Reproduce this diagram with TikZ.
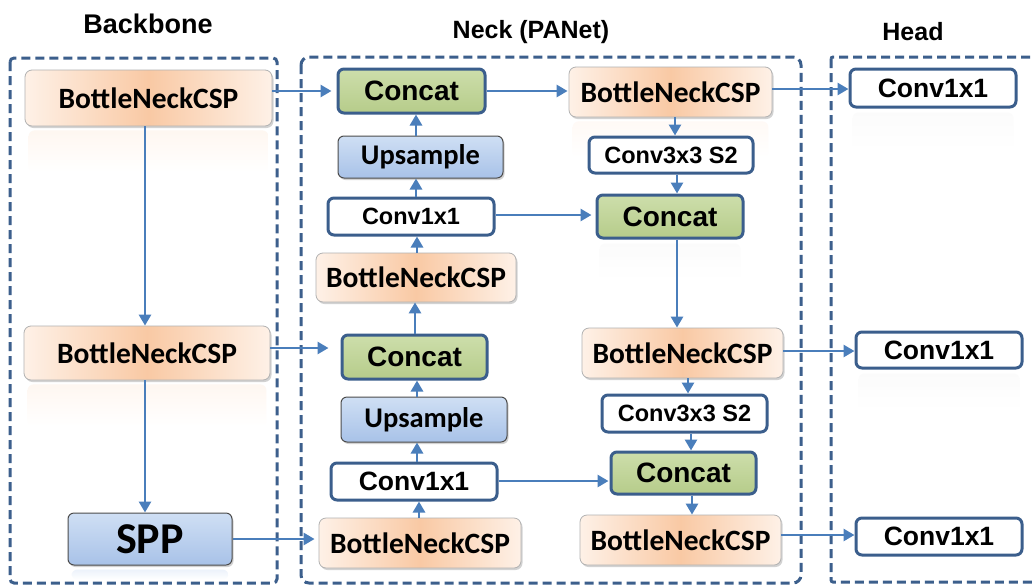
\documentclass[tikz,border=0pt]{standalone}
\usepackage{fontspec}
\setmainfont{Liberation Sans}
\newfontfamily\calib{Carlito}
\usetikzlibrary{arrows.meta,shadows,calc,backgrounds}
\definecolor{dashblue}{HTML}{3C5F8C}
\definecolor{arrblue}{HTML}{4A7EBB}
\definecolor{peachE}{HTML}{FEF1E7}
\definecolor{peachM}{HTML}{F9C9A4}
\definecolor{upT}{HTML}{CFDFF4}
\definecolor{upB}{HTML}{A8C2E8}
\definecolor{catT}{HTML}{CDDEAB}
\definecolor{catB}{HTML}{B6CC8A}
\definecolor{boxblue}{HTML}{3B5E8C}
\tikzset{
  x=1pt,y=-1pt,
  region/.style={draw=dashblue,line width=3pt,dash pattern=on 9pt off 5pt},
  shad/.style={drop shadow={opacity=0.35,shadow xshift=1.5pt,shadow yshift=-2pt}},
  bneck/.style={rounded corners=7pt,draw=black!30,line width=0.8pt,left color=peachE,right color=peachE,middle color=peachM,shad,inner sep=0pt,
     font=\calib\bfseries\fontsize{29.5}{30}\selectfont},
  upbox/.style={rounded corners=6pt,draw=black!70,line width=1pt,top color=upT,bottom color=upB,shad,inner sep=0pt,
     font=\calib\bfseries\fontsize{28.5}{30}\selectfont},
  catbox/.style={rounded corners=6pt,draw=boxblue,line width=3pt,top color=catT,bottom color=catB,inner sep=0pt,
     font=\bfseries\fontsize{28}{30}\selectfont},
  convbox/.style={rounded corners=6pt,draw=boxblue,line width=3pt,fill=white,inner sep=0pt,
     font=\bfseries\fontsize{26.5}{28}\selectfont},
  convsmall/.style={convbox,font=\bfseries\fontsize{23.5}{25}\selectfont},
  ttl/.style={font=\bfseries\fontsize{25}{27}\selectfont},
  arr/.style={draw=arrblue,line width=2.7pt,-{Triangle[length=11pt,width=12pt]}},
  refl/.style={rounded corners=6pt,top color=#1,bottom color=white,draw=none},
}
\newcommand\mirror[3]{\path[refl=#2] ($(#1.south west)+(4,4)$) rectangle ($(#1.south east)+(-4,#3)$);}
\begin{document}
\begin{tikzpicture}
\useasboundingbox (0,0) rectangle (1033,584);
% titles
\node[ttl,font=\bfseries\fontsize{27}{29}\selectfont] (tb) at (148,24) {Backbone};
\node[ttl] (tn) at (531,32) {Neck (PANet)};
\node[ttl] (th) at (913,32) {Head};
% regions
\draw[region,rounded corners=4pt] (10,58) rectangle (277,583);
\draw[region,rounded corners=8pt] (301,57) rectangle (801,583);
\draw[region,rounded corners=2pt] (831,57) rectangle (1045,582);
% backbone
\node[bneck,minimum width=247,minimum height=56] (bb1) at (148.5,98) {BottleNeckCSP};
\node[bneck,minimum width=246,minimum height=54] (bb2) at (147,353) {BottleNeckCSP};
\node[upbox,minimum width=164,minimum height=52,font=\calib\bfseries\fontsize{44}{46}\selectfont] (spp) at (150,539) {SPP};
% neck left
\node[catbox,minimum width=147,minimum height=44] (cat1) at (411.5,91) {Concat};
\node[upbox,minimum width=165,minimum height=42] (up1) at (420.5,157) {Upsample};
\node[convsmall,minimum width=166,minimum height=37] (cva) at (411,216.5) {Conv1x1};
\node[bneck,minimum width=200,minimum height=49] (bnl1) at (416,277.5) {BottleNeckCSP};
\node[catbox,minimum width=145,minimum height=44] (cat2) at (414.5,357) {Concat};
\node[upbox,minimum width=166,minimum height=45] (up2) at (424,419.5) {Upsample};
\node[convbox,minimum width=166,minimum height=37] (cvb) at (414,481.5) {Conv1x1};
\node[bneck,minimum width=202,minimum height=50] (bnl2) at (420,543) {BottleNeckCSP};
% neck right
\node[bneck,minimum width=203,minimum height=50] (bnr1) at (670.5,92) {BottleNeckCSP};
\node[convsmall,minimum width=164,minimum height=36] (c3a) at (671,155) {Conv3x3 S2};
\node[catbox,minimum width=146,minimum height=43] (cat3) at (670,216.5) {Concat};
\node[bneck,minimum width=201,minimum height=50] (bnr2) at (682.5,353) {BottleNeckCSP};
\node[convsmall,minimum width=165,minimum height=37] (c3b) at (684.5,413.5) {Conv3x3 S2};
\node[catbox,minimum width=145,minimum height=42] (cat4) at (683.5,473) {Concat};
\node[bneck,minimum width=201,minimum height=50] (bnr3) at (680.5,540) {BottleNeckCSP};
% head
\node[convbox,minimum width=166,minimum height=38] (h1) at (933,88) {Conv1x1};
\node[convbox,minimum width=166,minimum height=36] (h2) at (939,350) {Conv1x1};
\node[convbox,minimum width=166,minimum height=37] (h3) at (939,536.5) {Conv1x1};
% white page and faint reflections, behind everything
\begin{scope}[on background layer]
\fill[white] (0,0) rectangle (1033,584);
\mirror{bb1}{peachE!60}{46}
\mirror{bb2}{peachE!60}{46}
\mirror{spp}{upT!40}{14}
\mirror{bnr1}{peachE!40}{40}
\mirror{h1}{black!1.5}{42}
\mirror{h2}{black!1.5}{42}
\mirror{cat3}{black!1.5}{42}
\end{scope}
% backbone arrows
\draw[arr] (bb1.south -| 145,0) -- (bb2.north -| 145,0);
\draw[arr] (bb2.south -| 145,0) -- (spp.north -| 145,0);
% horizontal arrows
\draw[arr,shorten >=5pt] (bb1.east |- 0,91) -- (cat1.west |- 0,91);
\draw[arr,shorten >=1pt] (cat1.east |- 0,91) -- (bnr1.west |- 0,91);
\draw[arr] (bnr1.east |- 0,89) -- (h1.west |- 0,89);
\draw[arr,shorten >=4pt] (cva.east |- 0,215) -- (cat3.west |- 0,215);
\draw[arr,shorten >=12pt] (bb2.east |- 0,348) -- (cat2.west |- 0,348);
\draw[arr] (bnr2.east |- 0,351) -- (h2.west |- 0,351);
\draw[arr,shorten >=1pt] (cvb.east |- 0,481) -- (cat4.west |- 0,481);
\draw[arr,shorten >=4pt] (spp.east |- 0,539) -- (bnl2.west |- 0,539);
\draw[arr] (bnr3.east |- 0,535) -- (h3.west |- 0,535);
% neck left vertical
\draw[arr] (bnl1.north -| 417,0) -- (cva.south -| 417,0);
\draw[arr] (cva.north -| 416,0) -- (up1.south -| 416,0);
\draw[arr] (up1.north -| 416,0) -- (cat1.south -| 416,0);
\draw[arr] (bnl2.north -| 419,0) -- (cvb.south -| 419,0);
\draw[arr] (cvb.north -| 417,0) -- (up2.south -| 417,0);
\draw[arr] (up2.north -| 417,0) -- (cat2.south -| 417,0);
\draw[arr] (cat2.north -| 415,0) -- (bnl1.south -| 415,0);
% neck right vertical
\draw[arr] (bnr1.south -| 675,0) -- (c3a.north -| 675,0);
\draw[arr] (c3a.south -| 677,0) -- (cat3.north -| 677,0);
\draw[arr] (cat3.south -| 677,0) -- (bnr2.north -| 677,0);
\draw[arr] (bnr2.south -| 688,0) -- (c3b.north -| 688,0);
\draw[arr] (c3b.south -| 691,0) -- (cat4.north -| 691,0);
\draw[arr] (cat4.south -| 692,0) -- (bnr3.north -| 692,0);
\end{tikzpicture}
\end{document}
